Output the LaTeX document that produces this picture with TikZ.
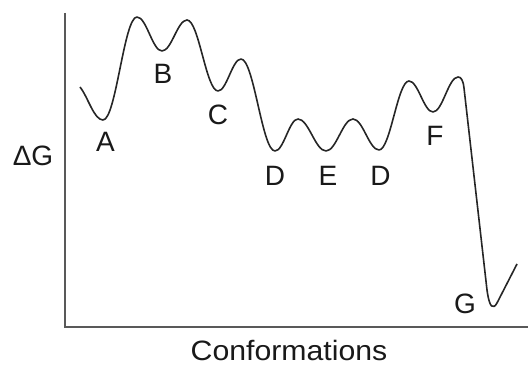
\documentclass[tikz,border=0pt]{standalone}
\usepackage{fontspec}
\setmainfont{Liberation Sans}
\begin{document}
\begin{tikzpicture}[x=1pt,y=1pt,
  axisline/.style={line width=1.8pt, draw=black!65},
  energy/.style={line width=1.6pt, draw=black!85, line join=round},
  lbl/.style={font=\fontsize{28}{30}\selectfont, inner sep=0pt, text=black!90}]
\useasboundingbox (0,0) rectangle (528,366);
\coordinate (o) at (65,39);
\coordinate (ytop) at (65,353);
\coordinate (xend) at (528,39);
\draw[axisline] (ytop) -- (o) -- (xend);
\draw[energy] (80,279)
  .. controls (88,269) and (94,246) .. (103,246)
  .. controls (116,246) and (124,349) .. (137,349)
  .. controls (146.5,349) and (152.5,315) .. (162,315)
  .. controls (171.5,315) and (177.5,346) .. (187,346)
  .. controls (198.8,346) and (206.2,275) .. (218,275)
  .. controls (226.7,275) and (232.3,307) .. (241,307)
  .. controls (253.9,307) and (262.1,215) .. (275,215)
  .. controls (283.7,215) and (289.3,247) .. (298,247)
  .. controls (308.6,247) and (315.4,215) .. (326,215)
  .. controls (336.3,215) and (342.7,247) .. (353,247)
  .. controls (362.9,247) and (369.1,216) .. (379,216)
  .. controls (390.4,216) and (397.6,285) .. (409,285)
  .. controls (418.1,285) and (423.9,254) .. (433,254)
  .. controls (442.5,254) and (448.5,289) .. (458,289)
  .. controls (461,289) and (463.1,286) .. (464,278)
  -- (487,76)
  .. controls (489.5,58) and (493,56) .. (497,63)
  -- (517,102);
\node[lbl] (A) at (105.5,224) {A};
\node[lbl] (B) at (163,292) {B};
\node[lbl] (C) at (218,251) {C};
\node[lbl] (D1) at (275,190) {D};
\node[lbl] (E) at (328,190) {E};
\node[lbl] (D2) at (380.5,190) {D};
\node[lbl] (F) at (435,230) {F};
\node[lbl] (G) at (465,62) {G};
\node[lbl] (dG) at (33,210.5) {ΔG};
\node[lbl, xscale=1.08] (conf) at (289,15.5) {Conformations};
\end{tikzpicture}
\end{document}
